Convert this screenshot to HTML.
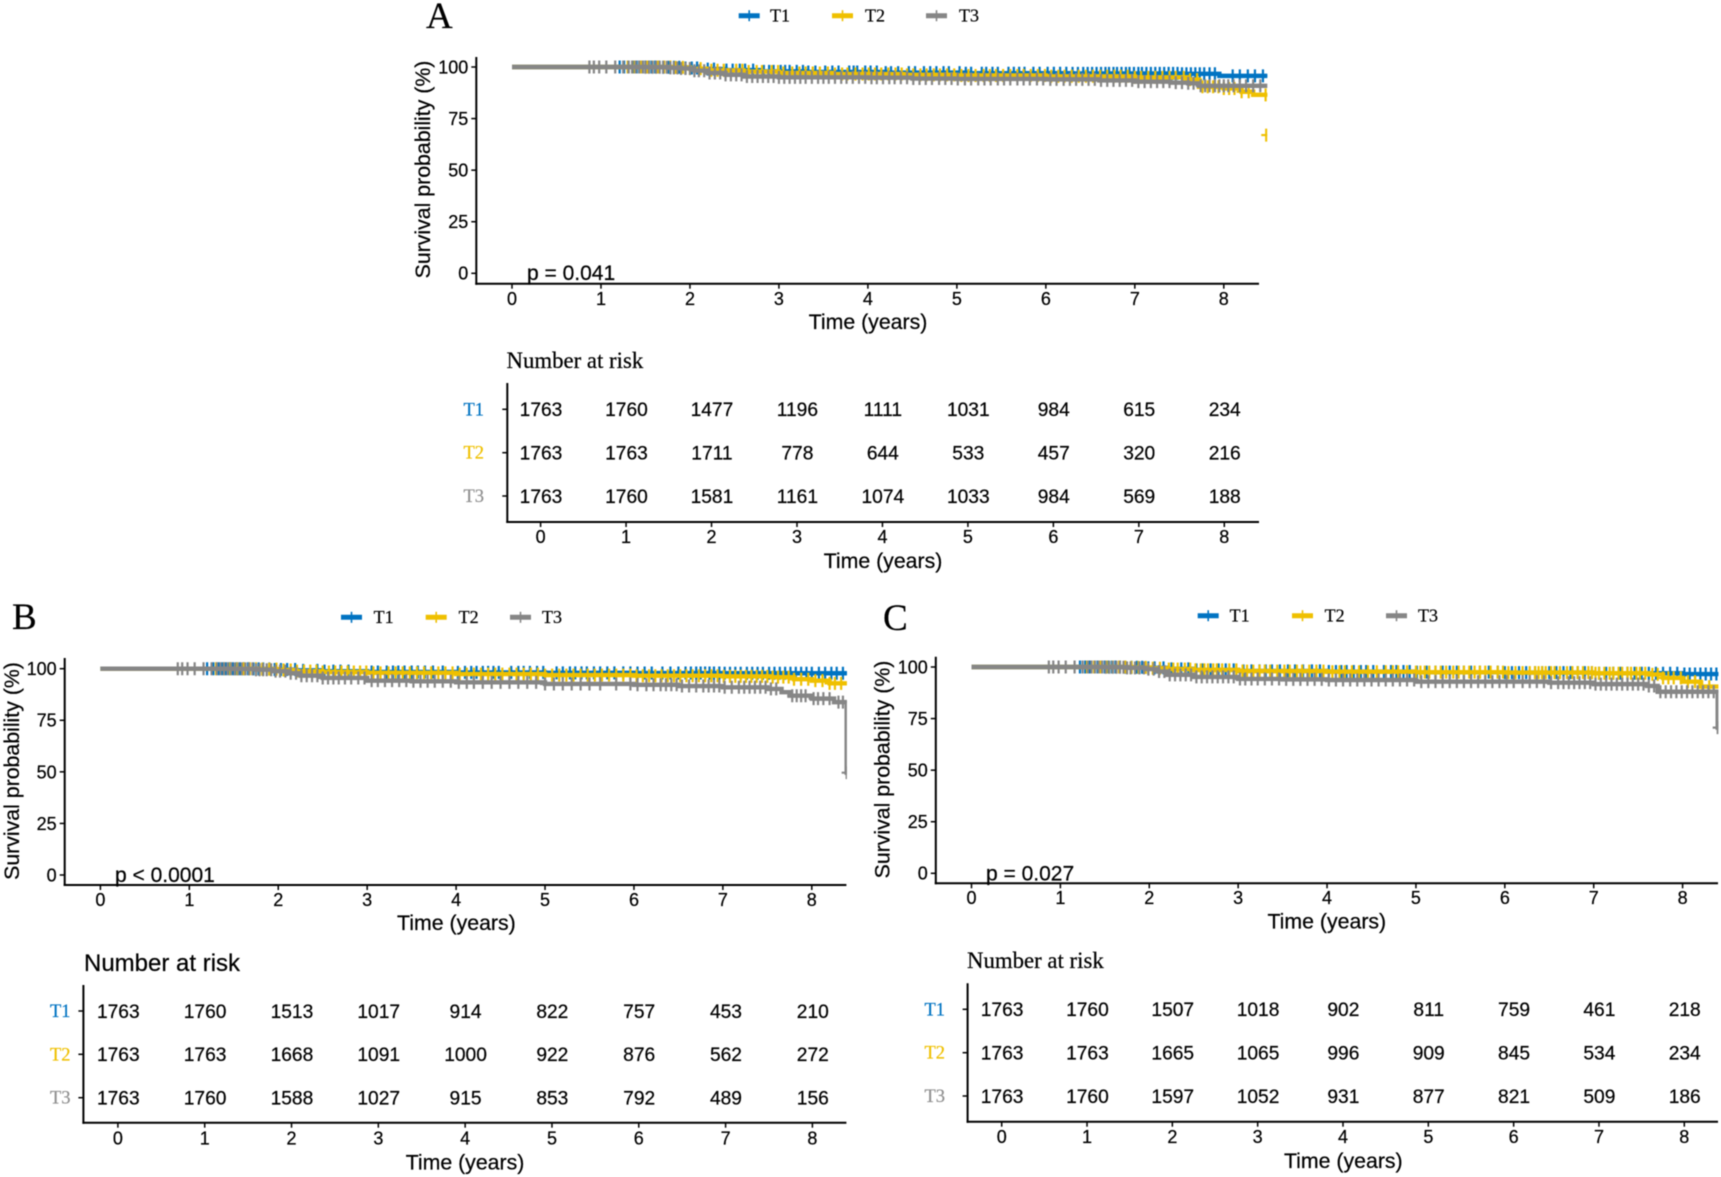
<!DOCTYPE html>
<html lang="en">
<head>
<meta charset="utf-8">
<title>Kaplan-Meier survival curves by tertile</title>
<style>
html,body{margin:0;padding:0;background:#fff;}
body{width:1721px;height:1177px;overflow:hidden;}
svg{display:block;filter:blur(0.4px);}
text{fill:#000;stroke:#000;stroke-width:0.22px;}
.sans{font-family:"Liberation Sans",Arial,sans-serif;}
.serif{font-family:"Liberation Serif","Times New Roman",serif;}
.axis-title{font-size:21.3px;font-family:"Liberation Sans",Arial,sans-serif;}
.letter{font-size:37px;font-family:"Liberation Serif","Times New Roman",serif;}
.legend{font-size:18px;font-family:"Liberation Serif","Times New Roman",serif;}
.ptext{font-size:21px;font-family:"Liberation Sans",Arial,sans-serif;}
</style>
</head>
<body>
<svg id="fig" xmlns="http://www.w3.org/2000/svg" width="1721" height="1177" viewBox="0 0 1721 1177">
  <rect width="1721" height="1177" fill="#fff"/>

  <g id="panel-a">
    <text class="letter" x="426" y="28">A</text>
    <text class="axis-title" transform="translate(430,169.5) rotate(-90)" text-anchor="middle">Survival probability (%)</text>
    <text class="axis-title" x="868" y="329" text-anchor="middle">Time (years)</text>
    <text class="ptext" x="527" y="280">p = 0.041</text>
    <text class="serif" font-size="22.8" x="506.5" y="368">Number at risk</text>
    <text class="axis-title" x="883" y="568" text-anchor="middle">Time (years)</text>
    <g>
      <text class="legend" x="770" y="21.5">T1</text>
      <text class="legend" x="865" y="21.5">T2</text>
      <text class="legend" x="959" y="21.5">T3</text>
    </g>
  </g>

  <g id="panel-b">
    <text class="letter" x="12" y="629">B</text>
    <text class="axis-title" transform="translate(19,771) rotate(-90)" text-anchor="middle">Survival probability (%)</text>
    <text class="axis-title" x="456.4" y="930" text-anchor="middle">Time (years)</text>
    <text class="ptext" x="115" y="882">p &lt; 0.0001</text>
    <text class="sans" font-size="24" x="84" y="971">Number at risk</text>
    <text class="axis-title" x="465" y="1169.5" text-anchor="middle">Time (years)</text>
    <g>
      <text class="legend" x="373.6" y="623">T1</text>
      <text class="legend" x="458.6" y="623">T2</text>
      <text class="legend" x="542" y="623">T3</text>
    </g>
  </g>

  <g id="panel-c">
    <text class="letter" x="883" y="630">C</text>
    <text class="axis-title" transform="translate(889.5,769.5) rotate(-90)" text-anchor="middle">Survival probability (%)</text>
    <text class="axis-title" x="1326.8" y="928.5" text-anchor="middle">Time (years)</text>
    <text class="ptext" x="986" y="880.5">p = 0.027</text>
    <text class="serif" font-size="22.8" x="967" y="968">Number at risk</text>
    <text class="axis-title" x="1343.3" y="1168" text-anchor="middle">Time (years)</text>
    <g>
      <text class="legend" x="1229.6" y="621.5">T1</text>
      <text class="legend" x="1324.6" y="621.5">T2</text>
      <text class="legend" x="1418" y="621.5">T3</text>
    </g>
  </g>
</svg>

<script>
// ---------- shared tick labels and group names ----------
const timeTicks = [0,1,2,3,4,5,6,7,8];
const survivalTicks = [0,25,50,75,100];
const groupNames = ['T3','T2','T1'];

// ---------- number at risk ----------
const riskA_T1 = [1763,1760,1477,1196,1111,1031,984,615,234];
const riskA_T2 = [1763,1763,1711,778,644,533,457,320,216];
const riskA_T3 = [1763,1760,1581,1161,1074,1033,984,569,188];
const riskB_T1 = [1763,1760,1513,1017,914,822,757,453,210];
const riskB_T2 = [1763,1763,1668,1091,1000,922,876,562,272];
const riskB_T3 = [1763,1760,1588,1027,915,853,792,489,156];
const riskC_T1 = [1763,1760,1507,1018,902,811,759,461,218];
const riskC_T2 = [1763,1763,1665,1065,996,909,845,534,234];
const riskC_T3 = [1763,1760,1597,1052,931,877,821,509,186];

// ---------- survival step curves: time (years) and survival (%) ----------
const timeA_T1 = [0,1.7,1.95,2.1,2.4,2.8,3.3,4.2,5.1,6.3,7.5,7.95,8.6];
const survA_T1 = [100,99.9,99.5,99,98.5,97.9,97.6,97.3,97,96.9,96.7,95.7,95.7];
const timeA_T2 = [0,1.8,2.0,2.2,2.6,3.0,3.6,4.4,5.0,6.0,7.0,7.6,7.72,8.0,8.2,8.33,8.6];
const survA_T2 = [100,99.8,99.2,98.4,97.8,97.1,96.6,96.2,95.9,95.5,95,93.9,90.4,89.6,88,86.5,86.5];
const timeA_T3 = [0,1.5,1.75,1.9,2.05,2.2,2.4,2.6,3.0,4.0,4.5,5.0,6.0,6.6,7.0,7.4,7.6,7.72,8.6];
const survA_T3 = [100,99.9,99.6,99.3,98.2,97.1,96.2,95.4,95,94.8,94.4,94.2,94,93.5,92.9,92.4,92.1,90.9,90.9];

const timeB_T1 = [0,1.7,1.95,2.2,2.5,3.0,4.0,5.0,6.0,7.0,8.6];
const survB_T1 = [100,99.9,99.6,99.2,98.8,98.4,98.2,98,97.9,97.8,97.7];
const timeB_T2 = [0,1.8,2.0,2.2,2.5,3.0,4.0,5.0,6.0,7.0,7.55,7.8,8.0,8.2,8.6];
const survB_T2 = [100,99.8,99.4,98.8,98.4,98,97.4,96.9,96.6,96.3,95.9,94.9,94.2,92.9,92];
const timeB_T3 = [0,1.5,1.75,1.95,2.1,2.25,2.5,3.0,3.5,4.0,5.0,6.0,6.5,7.0,7.5,7.66,7.75,8.0,8.25,8.392];
const survB_T3 = [100,99.9,99.5,98.8,97.8,96.6,95.5,94.2,93.9,93.4,92.6,92.2,91.6,91,90.2,88.6,86.9,85.5,83.8,49.6];

const timeC_T1 = [0,1.7,1.95,2.2,2.5,3.0,4.0,5.0,6.0,7.0,8.0,8.6];
const survC_T1 = [100,99.9,99.6,99.1,98.6,98.1,97.8,97.5,97.3,97,96.6,96.6];
const timeC_T2 = [0,1.8,2.0,2.2,2.5,3.0,4.0,5.0,6.0,7.0,7.62,7.78,8.0,8.2,8.6];
const survC_T2 = [100,99.8,99.4,99,98.6,98,97.7,97.5,97.3,97,96.4,94.7,92.9,90.5,89];
const timeC_T3 = [0,1.5,1.75,1.95,2.1,2.2,2.5,3.0,3.5,4.0,5.0,6.0,6.5,7.0,7.6,7.72,8.395];
const survC_T3 = [100,99.9,99.6,99,97.8,96.2,95.2,94.2,94,93.7,92.9,92.9,92.4,91.7,90.8,88,70.6];

// ---------- censoring times (years) ----------
const censorA_T1 = [1.21,1.26,1.31,1.36,1.4,1.43,1.47,1.5,1.54,1.57,1.61,1.65,1.7,1.76,1.82,1.88,1.95,2.02,2.08,2.2,2.27,2.41,2.48,2.56,2.62,2.71,2.83,2.89,2.94,3.02,3.07,3.12,3.2,3.27,3.33,3.41,3.52,3.6,3.67,3.79,3.84,3.88,3.97,4.03,4.1,4.2,4.26,4.34,4.46,4.53,4.63,4.7,4.77,4.85,4.91,5.03,5.1,5.16,5.28,5.33,5.4,5.46,5.58,5.64,5.7,5.76,5.86,5.93,6.02,6.09,6.16,6.23,6.3,6.36,6.42,6.47,6.52,6.57,6.62,6.67,6.71,6.76,6.8,6.85,6.9,6.94,6.99,7.04,7.08,7.13,7.18,7.23,7.28,7.33,7.38,7.43,7.48,7.53,7.58,7.63,7.68,7.73,7.78,7.84,7.9,8.1,8.18,8.27,8.35,8.44];
const censorA_T2 = [1.3,1.38,1.45,1.52,1.58,1.64,1.71,1.78,1.84,1.92,2.0,2.12,2.24,2.31,2.38,2.52,2.59,2.66,2.75,2.81,2.92,2.99,3.05,3.15,3.23,3.3,3.38,3.46,3.55,3.63,3.71,3.77,3.86,3.94,4.01,4.08,4.15,4.23,4.31,4.38,4.44,4.51,4.59,4.66,4.74,4.81,4.89,4.97,5.05,5.13,5.21,5.3,5.37,5.44,5.52,5.6,5.68,5.75,5.83,5.91,5.99,6.06,6.14,6.21,6.29,6.37,6.45,6.53,6.61,6.69,6.77,6.84,6.92,7.0,7.07,7.15,7.23,7.31,7.39,7.46,7.55,7.62,7.7,7.76,7.82,7.88,7.94,8.0,8.06,8.12,8.2,8.28,8.47];
const censorA_T3 = [0.87,0.92,0.98,1.06,1.16,1.25,1.31,1.35,1.39,1.43,1.47,1.5,1.54,1.58,1.62,1.66,1.7,1.74,1.78,1.82,1.86,1.9,1.95,2.0,2.05,2.1,2.16,2.22,2.28,2.34,2.4,2.46,2.52,2.58,2.64,2.7,2.76,2.82,2.88,2.94,3.0,3.06,3.12,3.18,3.24,3.3,3.37,3.44,3.5,3.56,3.63,3.7,3.76,3.83,3.9,3.97,4.04,4.1,4.17,4.24,4.3,4.37,4.44,4.51,4.58,4.65,4.72,4.8,4.87,4.94,5.01,5.09,5.16,5.24,5.31,5.38,5.46,5.53,5.6,5.68,5.75,5.82,5.9,5.97,6.05,6.12,6.2,6.27,6.34,6.41,6.48,6.55,6.62,6.69,6.76,6.83,6.9,6.97,7.04,7.11,7.18,7.25,7.32,7.39,7.46,7.53,7.6,7.66,7.74,7.79,7.84,7.9,7.95,8.0,8.05,8.11,8.18,8.25,8.33,8.41];

const censorB_T1 = [1.2,1.27,1.33,1.37,1.41,1.45,1.49,1.53,1.57,1.61,1.66,1.72,1.78,1.83,1.9,1.96,2.03,2.1,2.19,2.28,2.44,2.52,2.62,2.7,2.79,3.05,3.12,3.22,3.29,3.35,3.42,3.5,3.57,3.65,3.74,3.85,4.02,4.1,4.17,4.23,4.3,4.36,4.42,4.48,4.62,4.7,4.76,4.83,4.91,4.98,5.13,5.2,5.28,5.34,5.41,5.47,5.55,5.62,5.7,5.78,5.88,5.96,6.04,6.12,6.2,6.32,6.41,6.5,6.58,6.64,6.7,6.75,6.8,6.85,6.9,6.96,7.02,7.08,7.14,7.2,7.27,7.33,7.39,7.45,7.52,7.58,7.64,7.7,7.76,7.82,7.88,7.94,8.0,8.08,8.15,8.22,8.28,8.35];
const censorB_T2 = [1.3,1.39,1.46,1.54,1.61,1.68,1.75,1.82,1.9,1.98,2.06,2.14,2.21,2.29,2.36,2.43,2.5,2.57,2.64,2.71,2.78,2.85,2.92,2.99,3.07,3.15,3.24,3.32,3.4,3.48,3.56,3.64,3.72,3.8,3.88,3.96,4.04,4.12,4.2,4.28,4.36,4.44,4.52,4.6,4.68,4.76,4.84,4.92,5.0,5.08,5.16,5.24,5.32,5.4,5.48,5.56,5.64,5.72,5.8,5.88,5.96,6.03,6.1,6.17,6.24,6.31,6.38,6.45,6.52,6.59,6.66,6.73,6.8,6.87,6.94,7.01,7.08,7.14,7.2,7.26,7.32,7.38,7.44,7.5,7.56,7.62,7.68,7.74,7.8,7.88,7.96,8.04,8.12,8.2,8.26,8.33];
const censorB_T3 = [0.87,0.92,0.98,1.06,1.16,1.25,1.31,1.35,1.39,1.43,1.47,1.51,1.55,1.59,1.63,1.67,1.71,1.75,1.79,1.83,1.87,1.92,1.97,2.02,2.08,2.14,2.2,2.26,2.32,2.38,2.44,2.5,2.56,2.62,2.68,2.75,2.82,2.9,2.97,3.05,3.12,3.2,3.28,3.36,3.44,3.52,3.6,3.68,3.76,3.85,3.94,4.03,4.12,4.2,4.3,4.4,4.5,4.6,4.7,4.8,4.9,5.0,5.1,5.2,5.3,5.4,5.5,5.62,5.8,5.96,6.04,6.14,6.22,6.3,6.36,6.42,6.48,6.54,6.62,6.7,6.78,6.84,6.9,6.96,7.02,7.1,7.18,7.24,7.3,7.36,7.42,7.48,7.54,7.6,7.78,7.83,7.88,7.93,8.02,8.07,8.13,8.2,8.3,8.35,8.392];

const censorC_T1 = [1.22,1.28,1.33,1.38,1.42,1.46,1.5,1.54,1.58,1.62,1.67,1.73,1.8,1.86,1.92,1.99,2.06,2.16,2.25,2.36,2.44,2.53,2.6,2.69,2.78,2.86,2.95,3.06,3.15,3.24,3.31,3.38,3.47,3.56,3.64,3.73,3.83,3.92,4.02,4.1,4.16,4.22,4.3,4.38,4.44,4.52,4.64,4.72,4.78,4.86,4.93,5.01,5.12,5.22,5.3,5.38,5.46,5.54,5.62,5.72,5.82,5.92,6.0,6.08,6.16,6.24,6.34,6.42,6.5,6.58,6.66,6.74,6.82,6.9,6.98,7.06,7.14,7.22,7.3,7.38,7.46,7.54,7.62,7.7,7.78,7.86,7.94,8.02,8.08,8.14,8.2,8.26,8.32,8.38];
const censorC_T2 = [1.3,1.38,1.45,1.52,1.59,1.66,1.73,1.8,1.88,1.96,2.04,2.12,2.22,2.27,2.32,2.4,2.46,2.52,2.58,2.62,2.66,2.72,2.76,2.82,2.9,2.98,3.05,3.1,3.17,3.24,3.3,3.36,3.44,3.52,3.58,3.66,3.72,3.8,3.88,3.96,4.06,4.14,4.2,4.28,4.36,4.46,4.56,4.66,4.74,4.8,4.9,5.0,5.05,5.1,5.15,5.22,5.28,5.34,5.42,5.48,5.54,5.6,5.66,5.72,5.78,5.84,5.92,5.98,6.04,6.12,6.2,6.28,6.34,6.38,6.42,6.46,6.52,6.56,6.62,6.7,6.76,6.82,6.88,6.94,6.98,7.02,7.06,7.12,7.18,7.22,7.28,7.32,7.38,7.42,7.48,7.52,7.58,7.66,7.72,7.78,7.84,7.9,7.98,8.06,8.14,8.22,8.3];
const censorC_T3 = [0.87,0.92,0.98,1.06,1.16,1.25,1.31,1.35,1.39,1.43,1.47,1.51,1.55,1.59,1.63,1.67,1.71,1.75,1.79,1.84,1.89,1.94,1.99,2.05,2.11,2.17,2.23,2.29,2.35,2.41,2.47,2.53,2.59,2.65,2.71,2.77,2.83,2.89,2.95,3.02,3.08,3.15,3.22,3.3,3.38,3.46,3.54,3.62,3.7,3.78,3.86,3.94,4.02,4.1,4.18,4.26,4.34,4.42,4.5,4.58,4.66,4.74,4.82,4.9,4.98,5.06,5.14,5.22,5.3,5.38,5.46,5.54,5.62,5.7,5.78,5.86,5.94,6.02,6.1,6.2,6.28,6.36,6.44,6.52,6.6,6.66,6.72,6.78,6.84,6.9,6.96,7.02,7.08,7.14,7.2,7.26,7.32,7.38,7.44,7.5,7.56,7.62,7.68,7.75,7.81,7.87,7.93,7.99,8.05,8.11,8.17,8.23,8.29,8.35,8.395];

// Isolated last censor mark of panel A's T2 curve (its drop falls outside the visible area).
const loneTimeA_T2 = [8.477];
const loneSurvA_T2 = [67];

// ---------- palette and panel layout (not data) ----------
const colorT1 = '#0073C2';
const colorT2 = '#EFC000';
const colorT3 = '#868686';
const colorRiskT3 = '#909090';

const layoutA = {key:'a', axisX:476.3, axisTop:57, axisY:283.7, axisRight:1259, clipRight:1267.3, x0:512, x8:1223.8, y0:273.3, y100:67,
  tickLabelY:298.5, legendY:15.7, legendKeys:[738.7,832,926],
  riskAxisX:507.3, riskTop:383, riskY:522, riskRight:1259, riskX0:540.6, riskX8:1224.3, riskRows:[409.3,452.7,496], riskTickY:536.8, riskLabelX:484};
const layoutB = {key:'b', axisX:64.7, axisTop:658, axisY:885, axisRight:846.4, clipRight:846.9, x0:100.4, x8:811.8, y0:875, y100:668.7,
  tickLabelY:899.5, legendY:617.3, legendKeys:[341,425.7,510],
  riskAxisX:83.4, riskTop:985, riskY:1122.7, riskRight:846.4, riskX0:117.9, riskX8:812.4, riskRows:[1011,1054.3,1097.7], riskTickY:1138.3, riskLabelX:70.5};
const layoutC = {key:'c', axisX:935.8, axisTop:656.7, axisY:883.3, axisRight:1718, clipRight:1718.4, x0:971.5, x8:1682.6, y0:873.3, y100:667,
  tickLabelY:897.8, legendY:615.7, legendKeys:[1197.7,1292,1386],
  riskAxisX:967.6, riskTop:983.3, riskY:1121.7, riskRight:1718, riskX0:1001.7, riskX8:1684.3, riskRows:[1009.3,1052.7,1096], riskTickY:1136.6, riskLabelX:945};

const SVG_NS = 'http://www.w3.org/2000/svg';

function make(parent, tag, attrs) {
  const node = document.createElementNS(SVG_NS, tag);
  for (const k in attrs) node.setAttribute(k, attrs[k]);
  parent.appendChild(node);
  return node;
}

function survivalAt(times, values, t) {
  let s = values[0];
  for (let i = 0; i < times.length; i++) {
    if (times[i] <= t) s = values[i];
  }
  return s;
}

function drawAxesFrame(group, layout, xScale, yScale) {
  const yLine = make(group, 'line', {x1:layout.axisX, x2:layout.axisX, y1:layout.axisTop, y2:layout.axisY + 1, stroke:'#000', 'stroke-width':2});
  
  
  const xLine = make(group, 'line', {x1:layout.axisX - 1, x2:layout.axisRight, y1:layout.axisY, y2:layout.axisY, stroke:'#000', 'stroke-width':2});
  
  

  survivalTicks.forEach(function (v) {
    const tick = make(group, 'line', {x1:layout.axisX - 5, x2:layout.axisX, y1:yScale(v), y2:yScale(v), stroke:'#000', 'stroke-width':1.5});
    
    
    const label = make(group, 'text', {x:layout.axisX - 8, y:yScale(v) + 6.4, 'text-anchor':'end', 'font-size':18, class:'sans'});
    
    
    label.textContent = v;
  });

  timeTicks.forEach(function (v) {
    const tick = make(group, 'line', {x1:xScale(v), x2:xScale(v), y1:layout.axisY, y2:layout.axisY + 5, stroke:'#000', 'stroke-width':1.5});
    
    
    const label = make(group, 'text', {x:xScale(v), y:layout.tickLabelY + 6.4, 'text-anchor':'middle', 'font-size':18, class:'sans'});
    
    
    label.textContent = v;
  });
}

function drawSeries(group, clipId, name, color, times, values, censors, xScale, yScale) {
  const series = make(group, 'g', {'clip-path':'url(#' + clipId + ')'});
  
  

  let d = 'M' + xScale(times[0]) + ' ' + yScale(values[0]);
  for (let i = 1; i < times.length; i++) {
    d += 'H' + xScale(times[i]) + 'V' + yScale(values[i]);
  }
  d += 'H' + xScale(times[times.length - 1] + 0.3);
  const line = make(series, 'path', {d:d, fill:'none', stroke:color, 'stroke-width':4.4});
  
  

  censors.forEach(function (t) {
    const s = survivalAt(times, values, t);
    drawCensor(series, name, color, xScale(t), yScale(s));
  });
}

function drawCensor(parent, name, color, px, py) {
  const mark = make(parent, 'path', {d:'M' + (px - 5) + ' ' + py + 'H' + (px + 5) + 'M' + px + ' ' + (py - 6.5) + 'V' + (py + 6.5), fill:'none', stroke:color, 'stroke-width':2.2});
  
  
}

function drawLegend(group, layout) {
  const colors = [colorT1, colorT2, colorT3];
  layout.legendKeys.forEach(function (left, i) {
    const key = make(group, 'path', {d:'M' + left + ' ' + layout.legendY + 'h21', fill:'none', stroke:colors[i], 'stroke-width':5});
    
    
    const plus = make(group, 'path', {d:'M' + (left + 10.5) + ' ' + (layout.legendY - 5.5) + 'v11', fill:'none', stroke:colors[i], 'stroke-width':1.6});
    
    
  });
}

function drawRiskTable(group, layout, rows) {
  const riskX = function (t) {
    return layout.riskX0 + (layout.riskX8 - layout.riskX0) * t / timeTicks[timeTicks.length - 1];
  };
  const yLine = make(group, 'line', {x1:layout.riskAxisX, x2:layout.riskAxisX, y1:layout.riskTop, y2:layout.riskY + 1, stroke:'#000', 'stroke-width':2});
  
  
  const xLine = make(group, 'line', {x1:layout.riskAxisX - 1, x2:layout.riskRight, y1:layout.riskY, y2:layout.riskY, stroke:'#000', 'stroke-width':2});
  
  

  timeTicks.forEach(function (v) {
    const tick = make(group, 'line', {x1:riskX(v), x2:riskX(v), y1:layout.riskY, y2:layout.riskY + 5, stroke:'#000', 'stroke-width':1.5});
    
    
    const label = make(group, 'text', {x:riskX(v), y:layout.riskTickY + 6.4, 'text-anchor':'middle', 'font-size':18, class:'sans'});
    
    
    label.textContent = v;
  });

  const rowColors = [colorT1, colorT2, colorRiskT3];
  const rowNames = groupNames.slice().reverse();
  rows.forEach(function (row, r) {
    const cy = layout.riskRows[r];
    const tick = make(group, 'line', {x1:layout.riskAxisX - 5, x2:layout.riskAxisX, y1:cy, y2:cy, stroke:'#000', 'stroke-width':1.5});
    
    
    const name = make(group, 'text', {x:layout.riskLabelX, y:cy + 6, 'text-anchor':'end', 'font-size':18.5, class:'serif', style:'fill:' + rowColors[r] + ';stroke:' + rowColors[r]});
    
    
    name.textContent = rowNames[r];
    row.forEach(function (count, c) {
      const cell = make(group, 'text', {x:riskX(timeTicks[c]) + 0.4, y:cy + 6.8, 'text-anchor':'middle', 'font-size':19.2, class:'sans'});
      
      
      cell.textContent = count;
    });
  });
}

function drawPanel(layout, seriesList, riskRows, lone) {
  const group = document.getElementById('panel-' + layout.key);
  const xScale = function (t) {
    return layout.x0 + (layout.x8 - layout.x0) * t / timeTicks[timeTicks.length - 1];
  };
  const yScale = function (s) {
    return layout.y0 - (layout.y0 - layout.y100) * s / survivalTicks[survivalTicks.length - 1];
  };
  const clipId = 'clip-' + layout.key;
  const clip = make(group, 'clipPath', {id:clipId});
  make(clip, 'rect', {x:layout.axisX, y:layout.axisTop - 10, width:layout.clipRight - layout.axisX, height:layout.axisY - layout.axisTop + 10});

  drawAxesFrame(group, layout, xScale, yScale);
  seriesList.forEach(function (sr) {
    drawSeries(group, clipId, sr.name, sr.color, sr.times, sr.values, sr.censors, xScale, yScale);
  });
  if (lone) {
    const loneGroup = make(group, 'g', {'clip-path':'url(#' + clipId + ')'});
    
    
    lone.times.forEach(function (t, i) {
      drawCensor(loneGroup, lone.name, lone.color, xScale(t), yScale(lone.values[i]));
    });
  }
  drawLegend(group, layout);
  drawRiskTable(group, layout, riskRows);
}

drawPanel(layoutA, [
  {name:'t1', color:colorT1, times:timeA_T1, values:survA_T1, censors:censorA_T1},
  {name:'t2', color:colorT2, times:timeA_T2, values:survA_T2, censors:censorA_T2},
  {name:'t3', color:colorT3, times:timeA_T3, values:survA_T3, censors:censorA_T3}
], [riskA_T1, riskA_T2, riskA_T3], {name:'t2', color:colorT2, times:loneTimeA_T2, values:loneSurvA_T2});

drawPanel(layoutB, [
  {name:'t1', color:colorT1, times:timeB_T1, values:survB_T1, censors:censorB_T1},
  {name:'t2', color:colorT2, times:timeB_T2, values:survB_T2, censors:censorB_T2},
  {name:'t3', color:colorT3, times:timeB_T3, values:survB_T3, censors:censorB_T3}
], [riskB_T1, riskB_T2, riskB_T3], null);

drawPanel(layoutC, [
  {name:'t1', color:colorT1, times:timeC_T1, values:survC_T1, censors:censorC_T1},
  {name:'t2', color:colorT2, times:timeC_T2, values:survC_T2, censors:censorC_T2},
  {name:'t3', color:colorT3, times:timeC_T3, values:survC_T3, censors:censorC_T3}
], [riskC_T1, riskC_T2, riskC_T3], null);
</script>
</body>
</html>
